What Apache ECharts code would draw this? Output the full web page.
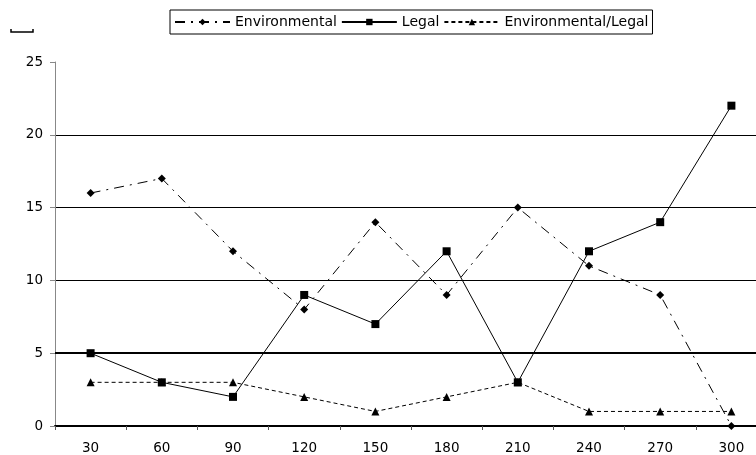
<!DOCTYPE html>
<html><head><meta charset="utf-8">
<script src="https://cdn.jsdelivr.net/npm/echarts@6/dist/echarts.min.js"></script>
<style>html,body{margin:0;padding:0;background:#fff;overflow:hidden;width:756px;height:455px}#c{width:770px;height:455px}</style>
</head><body><div id="c"></div>
<script>
const categories = ['30','60','90','120','150','180','210','240','270','300'];
const environmental = [16,17,12,8,14,9,15,11,9,0];
const legal = [5,3,2,9,7,12,3,12,14,22];
const envLegal = [3,3,3,2,1,2,3,1,1,1];
const seriesNames = ['Environmental','Legal','Environmental/Legal'];

const chart = echarts.init(document.getElementById('c'), null, {renderer:'canvas'});
const font = 'DejaVu Sans';
chart.setOption({
  animation:false,
  backgroundColor:'#fff',
  textStyle:{fontFamily:font},
  legend:{
    left:170, top:10,
    padding:[5,4,5,4],
    borderColor:'#000', borderWidth:1,
    itemWidth:55, itemHeight:8, itemGap:4,
    textStyle:{fontFamily:font, fontSize:14, color:'#000'},
    data:seriesNames
  },
  grid:{left:55, width:712, top:62, height:364, containLabel:false},
  xAxis:{
    type:'category', data:categories, boundaryGap:true,
    axisLine:{lineStyle:{color:'#000', width:2}},
    axisTick:{show:true, alignWithLabel:false, length:4, lineStyle:{color:'#555', width:1}},
    axisLabel:{color:'#000', fontSize:13.5, fontFamily:font, margin:15},
    splitLine:{show:false}
  },
  yAxis:{
    type:'value', min:0, max:25, interval:5,
    axisLine:{show:true, lineStyle:{color:'#888', width:1}},
    axisTick:{show:true, length:5, lineStyle:{color:'#888'}},
    axisLabel:{color:'#000', fontSize:13.5, fontFamily:font, margin:12},
    splitLine:{show:true, lineStyle:{color:['#000','#000','#000','#000','#000','rgba(0,0,0,0)'], width:1}}
  },
  graphic:[{type:'polyline', shape:{points:[[11,29],[11,32],[33,32],[33,29]]}, style:{stroke:'#000', lineWidth:1.5, fill:null}}],
  series:[
    {name:seriesNames[0], type:'line', data:environmental, symbol:'diamond', symbolSize:8,
     itemStyle:{color:'#000'}, lineStyle:{color:'#000', width:1, type:[10,6,2,6]}},
    {name:seriesNames[1], type:'line', data:legal, symbol:'rect', symbolSize:8,
     itemStyle:{color:'#000'}, lineStyle:{color:'#000', width:1, type:'solid'},
     markLine:{silent:true, symbol:'none', label:{show:false}, lineStyle:{color:'#000', width:2, type:'solid'},
       data:[{yAxis:5}]}},
    {name:seriesNames[2], type:'line', data:envLegal, symbol:'triangle', symbolSize:8,
     itemStyle:{color:'#000'}, lineStyle:{color:'#000', width:1, type:[4,3]}}
  ]
});
</script></body></html>
